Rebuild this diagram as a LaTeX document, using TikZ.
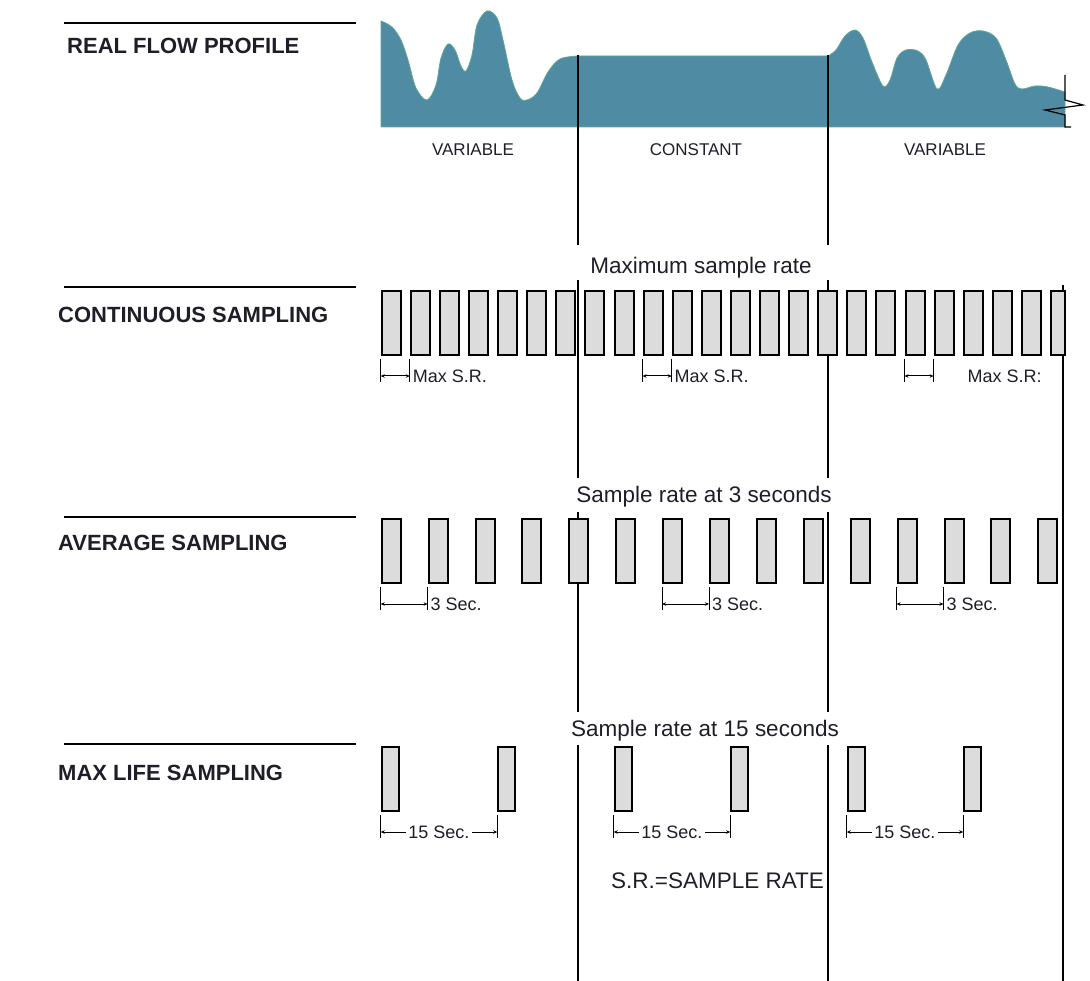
\documentclass[tikz,border=0pt]{standalone}
\usepackage{fontspec}
\setmainfont{Liberation Sans}
\usetikzlibrary{arrows.meta,calc}

\definecolor{flowfill}{RGB}{80,139,164}
\definecolor{flowedge}{RGB}{96,168,150}
\definecolor{barfill}{RGB}{220,220,220}
\definecolor{inkcol}{RGB}{30,30,40}

\tikzset{
  rowlabel/.style={anchor=base west, inner sep=0pt, text=inkcol, font=\fontsize{22}{26}\selectfont\bfseries},
  zonelabel/.style={anchor=base, text=inkcol, font=\fontsize{17}{20}\selectfont},
  ratelabel/.style={anchor=base, text=inkcol, font=\fontsize{22.5}{27}\selectfont},
  smalllabel/.style={text=inkcol, inner sep=2.5pt, font=\fontsize{18}{21}\selectfont},
  sbar/.style={draw, fill=barfill, line width=2pt, inner sep=0pt,
    minimum width=19pt, minimum height=64pt},
  rowrule/.style={line width=1.8pt},
  divider/.style={line width=1.4pt},
  tickline/.style={line width=1pt},
  gapline/.style={line width=1pt, {Stealth[length=4pt,width=3.5pt]}-{Stealth[length=4pt,width=3.5pt]}}
}

% spacing mark under two bars: first bar, second bar, label placement, label
\newcommand{\ratemark}[4]{%
  \draw[tickline] ($(#1.south west)+(0,3)$) -- ($(#1.south west)+(0,26)$);
  \draw[tickline] ($(#2.south west)+(0,3)$) -- ($(#2.south west)+(0,26)$);
  \draw[gapline] ($(#1.south west)+(0,20)$) -- ($(#2.south west)+(0,20)$)
    node[smalllabel,#3] {#4};}

\begin{document}
\begin{tikzpicture}[x=1pt,y=-1pt]
\useasboundingbox (0,0) rectangle (1090,981);

% row titles
\foreach \y in {23,287,517,744}
  \draw[rowrule] (64,\y) -- (356,\y);
\node[rowlabel] (lblflow) at (67,54) {REAL FLOW PROFILE};
\node[rowlabel] (lblcont) at (58,323) {CONTINUOUS SAMPLING};
\node[rowlabel] (lblavg) at (58,550) {AVERAGE SAMPLING};
\node[rowlabel] (lbllife) at (58,780) {MAX LIFE SAMPLING};

% flow profile
\filldraw[fill=flowfill, draw=flowedge, line width=0.8pt]
  (381,127) -- (381,21)
  -- plot[smooth,tension=0.55] coordinates {(381,21) (392,27) (401,40) (408,60)
     (416,88) (427,100) (436,85) (441,58) (448,44) (455,50) (461,66) (466,71)
     (472,55) (477,25) (487,11) (497,18) (503,40) (512,80) (520,98) (527,100)
     (537,93) (548,72) (560,59) (578,56)}
  -- (828,56)
  -- plot[smooth,tension=0.55] coordinates {(828,56) (836,50) (845,36) (855,30)
     (863,38) (872,62) (883,86) (890,80) (897,58) (906,50) (918,51) (926,60)
     (937,89) (946,75) (958,45) (970,33) (983,31) (996,38) (1006,60) (1015,84)
     (1022,89) (1035,86) (1048,87) (1065,92)}
  -- (1065,127) -- cycle;
\draw[line width=1.2pt] (1065,75) -- (1065,100) -- (1083,105) -- (1045,110)
  -- (1065,115) -- (1065,127) -- (1071,127);

\node[zonelabel] (zvar1) at (473,156) {VARIABLE};
\node[zonelabel] (zconst) at (696,156) {CONSTANT};
\node[zonelabel] (zvar2) at (945,156) {VARIABLE};

% dividers
\foreach \x in {578,828}{
  \draw[divider] (\x,55) -- (\x,245);
  \draw[divider] (\x,280) -- (\x,478);
  \draw[divider] (\x,512) -- (\x,712);
  \draw[divider] (\x,745) -- (\x,981);
}
\draw[divider] (1063,285) -- (1063,981);

% continuous sampling
\node[ratelabel] (ratecont) at (701,274) {Maximum sample rate};
\foreach \i in {1,...,23}
  \node[sbar] (c\i) at ({391.2+29.1*(\i-1)},323) {};
\node[sbar, minimum width=14pt] (c24) at (1058,323) {};
\ratemark{c1}{c2}{pos=1,anchor=west}{Max S.R.}
\ratemark{c10}{c11}{pos=1,anchor=west}{Max S.R.}
\ratemark{c19}{c20}{pos=1,anchor=west,xshift=31pt}{Max S.R:}

% average sampling
\node[ratelabel] (rateavg) at (704,502) {Sample rate at 3 seconds};
\foreach \i in {1,...,15}
  \node[sbar] (a\i) at ({391.2+46.9*(\i-1)},551) {};
\ratemark{a1}{a2}{pos=1,anchor=west}{3 Sec.}
\ratemark{a7}{a8}{pos=1,anchor=west}{3 Sec.}
\ratemark{a12}{a13}{pos=1,anchor=west}{3 Sec.}

% max life sampling
\node[ratelabel] (ratelife) at (705,736) {Sample rate at 15 seconds};
\foreach \i in {1,...,6}
  \node[sbar, minimum width=17pt] (m\i) at ({390.2+116.5*(\i-1)},779) {};
\ratemark{m1}{m2}{midway,fill=white}{15 Sec.}
\ratemark{m3}{m4}{midway,fill=white}{15 Sec.}
\ratemark{m5}{m6}{midway,fill=white}{15 Sec.}

\node[ratelabel, anchor=base west, inner sep=0pt] (legend) at (611,888) {S.R.=SAMPLE RATE};
\end{tikzpicture}
\end{document}
